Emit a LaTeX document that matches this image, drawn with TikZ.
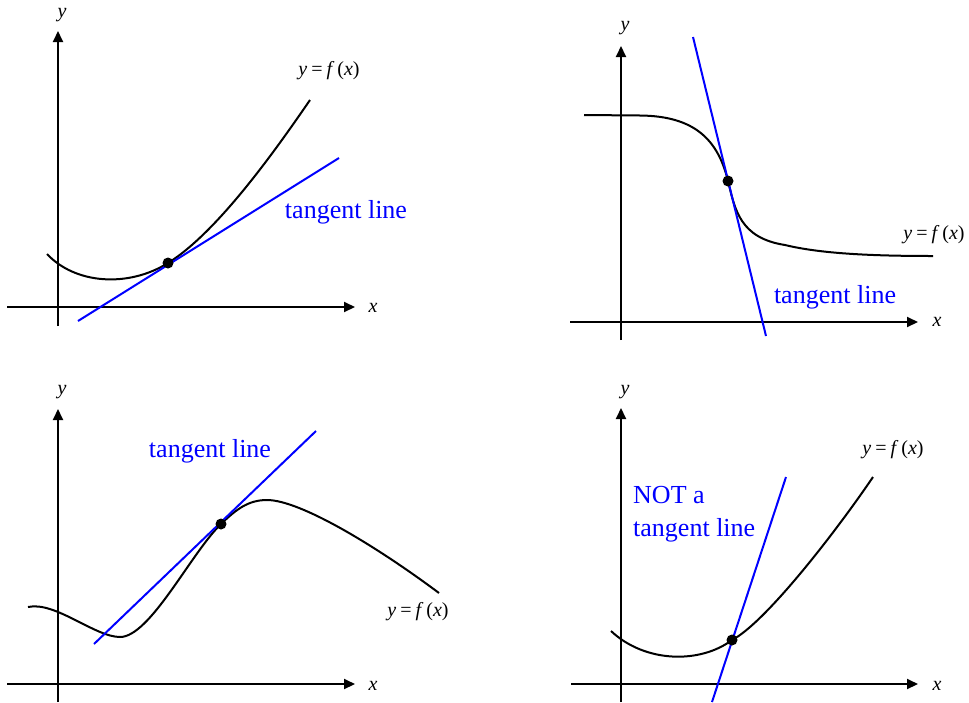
\documentclass[tikz,border=0pt]{standalone}
\usepackage{fontspec}
\setmainfont{Liberation Serif}
\usetikzlibrary{arrows.meta}
\definecolor{tblue}{RGB}{0,0,255}
\tikzset{
  axis/.style={line width=2pt,-{Triangle[length=11pt,width=10pt]}},
  plainline/.style={line width=2pt},
  curve/.style={line width=2pt,black},
  tline/.style={line width=2pt,tblue},
  dotpt/.style={circle,fill=black,inner sep=0pt,minimum size=11pt},
  axlabel/.style={inner sep=0pt,font=\fontsize{20}{24}\selectfont\itshape},
  flabel/.style={inner sep=0pt,font=\fontsize{20}{24}\selectfont},
  tlabel/.style={inner sep=0pt,text=tblue,font=\fontsize{26}{33}\selectfont},
}
\newcommand{\yfx}{\textit{y}\hspace{4pt}=\hspace{4pt}\textit{f}\hspace{3pt}(\textit{x})}
\begin{document}
\begin{tikzpicture}[x=1pt,y=-1pt]
\useasboundingbox (0,0) rectangle (969,702);
% ---------------- Panel 1 (top left)
\coordinate (a1xs) at (7,307);   \coordinate (a1xe) at (355,307);
\coordinate (a1ys) at (58,326);  \coordinate (a1ye) at (58,31);
\draw[axis] (a1xs) -- (a1xe);
\draw[axis] (a1ys) -- (a1ye);
\node[axlabel] (a1y) at (62,15) {y};
\node[axlabel] (a1x) at (373,308) {x};
\coordinate (p1s) at (47,254);
\coordinate (p1) at (168,263);
\coordinate (p1e) at (310,100);
\draw[curve] (p1s) .. controls (75,284) and (128,288) .. (p1)
  .. controls (218,232) and (277,148) .. (p1e);
\coordinate (t1s) at (78,321); \coordinate (t1e) at (339,158);
\draw[tline] (t1s) -- (t1e);
\node[dotpt] (d1) at (p1) {};
\node[tlabel] (l1) at (346,212) {tangent line};
\node[flabel] (f1) at (329,71) {\yfx};
% ---------------- Panel 2 (top right)
\coordinate (a2xs) at (570,322); \coordinate (a2xe) at (918,322);
\coordinate (a2ys) at (621,340); \coordinate (a2ye) at (621,46);
\draw[axis] (a2xs) -- (a2xe);
\draw[axis] (a2ys) -- (a2ye);
\node[axlabel] (a2y) at (625,28) {y};
\node[axlabel] (a2x) at (937,322) {x};
\coordinate (p2s) at (584,115);
\coordinate (p2a) at (640,115.5);
\coordinate (p2) at (728,181);
\coordinate (p2b) at (785,245);
\coordinate (p2e) at (933,256);
\draw[curve] (p2s) -- (p2a) .. controls (695,116) and (718,140) .. (p2)
  .. controls (735,210) and (740,238) .. (p2b)
  .. controls (820,253.5) and (870,256) .. (p2e);
\coordinate (t2s) at (693,37); \coordinate (t2e) at (766,336);
\draw[tline] (t2s) -- (t2e);
\node[dotpt] (d2) at (p2) {};
\node[tlabel] (l2) at (835,297) {tangent line};
\node[flabel] (f2) at (934,235) {\yfx};
% ---------------- Panel 3 (bottom left)
\coordinate (a3xs) at (7,684);   \coordinate (a3xe) at (355,684);
\coordinate (a3ys) at (58,702);  \coordinate (a3ye) at (58,409);
\draw[axis] (a3xs) -- (a3xe);
\draw[axis] (a3ys) -- (a3ye);
\node[axlabel] (a3y) at (62,392) {y};
\node[axlabel] (a3x) at (373,686) {x};
\coordinate (p3s) at (28,607);
\coordinate (p3m) at (120,637);
\coordinate (p3) at (221,524);
\coordinate (p3x) at (267,500);
\coordinate (p3e) at (439,593);
\draw[curve] (p3s) .. controls (55,601) and (95,637) .. (p3m)
  .. controls (150,637) and (191,553) .. (p3)
  .. controls (236,509.6) and (248,500) .. (p3x)
  .. controls (300,500) and (376,546) .. (p3e);
\coordinate (t3s) at (94,644); \coordinate (t3e) at (316,431);
\draw[tline] (t3s) -- (t3e);
\node[dotpt] (d3) at (p3) {};
\node[tlabel] (l3) at (210,451) {tangent line};
\node[flabel] (f3) at (418,612) {\yfx};
% ---------------- Panel 4 (bottom right)
\coordinate (a4xs) at (571,684); \coordinate (a4xe) at (918,684);
\coordinate (a4ys) at (621,702); \coordinate (a4ye) at (621,408);
\draw[axis] (a4xs) -- (a4xe);
\draw[axis] (a4ys) -- (a4ye);
\node[axlabel] (a4y) at (625,392) {y};
\node[axlabel] (a4x) at (937,686) {x};
\coordinate (p4s) at (611,631);
\coordinate (p4) at (732,640);
\coordinate (p4e) at (873,477);
\draw[curve] (p4s) .. controls (645,663) and (700,664) .. (p4)
  .. controls (765,623) and (835,533) .. (p4e);
\coordinate (t4s) at (712,702); \coordinate (t4e) at (786,477);
\draw[tline] (t4s) -- (t4e);
\node[dotpt] (d4) at (p4) {};
\node[tlabel,anchor=west,align=left] (l4) at (633,514) {NOT a\\tangent line};
\node[flabel] (f4) at (893,450) {\yfx};
\end{tikzpicture}
\end{document}
